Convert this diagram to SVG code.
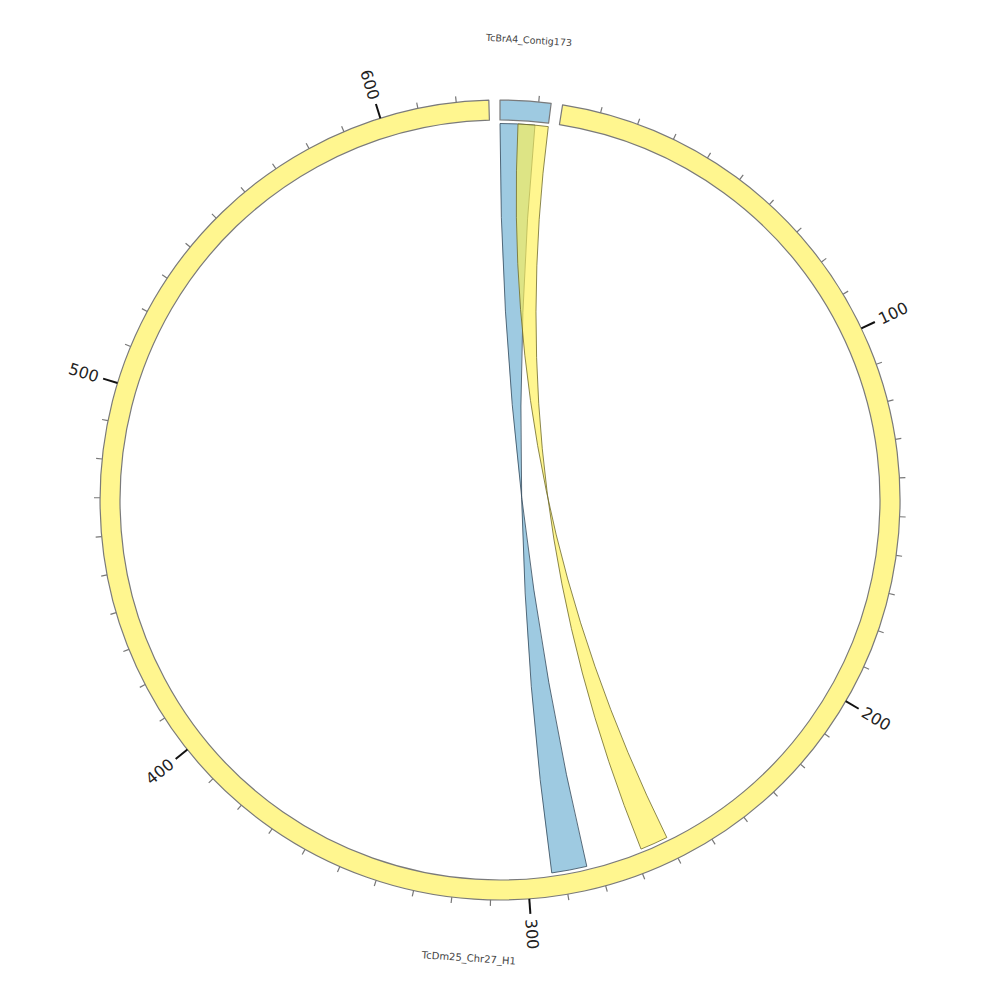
<svg xmlns="http://www.w3.org/2000/svg" width="1000" height="1000" viewBox="0 0 1000 1000">
<style>
.seg{stroke:#7a7a7a;stroke-width:1.2;stroke-linejoin:round}
.minor{stroke:#777;stroke-width:1.2}
.major{stroke:#111;stroke-width:2}
.tl{font-family:"DejaVu Sans",sans-serif;font-size:16px;fill:#222;dominant-baseline:central}
.sl{font-family:"DejaVu Sans",sans-serif;fill:#444;text-anchor:middle;dominant-baseline:central}
</style>
<rect width="1000" height="1000" fill="#fff"/>
<g id="links">
<path id="link-blue" d="M500,123.5 A376.5,376.5 0 0 1 534.97,125.13 Q500,500 551.75,872.93 A376.5,376.5 0 0 0 586.81,866.36 Q500,500 500,123.5 Z" fill="#9ecae1" stroke="#34495a" stroke-width="0.8"/>
<path id="link-yellow" d="M518,123.93 A376.5,376.5 0 0 1 548.3,126.61 Q500,500 641.04,849.08 A376.5,376.5 0 0 0 666.82,837.53 Q500,500 518,123.93 Z" fill="rgb(255,241,83)" fill-opacity="0.65" stroke="#6f6a2a" stroke-width="0.8"/>
</g>
<g id="TcBrA4_Contig173">
<path class="seg" fill="#9ecae1" d="M500,100 A400,400 0 0 1 551.17,103.29 L548.61,123.12 A380,380 0 0 0 500,120 Z"/>
<line class="minor" x1="500" y1="100" x2="500" y2="94" transform="rotate(5.56 500 500)"/>
<text class="sl" font-size="9.5" x="500" y="39" transform="rotate(3.6 500 500)">TcBrA4_Contig173</text>
</g>
<g id="TcDm25_Chr27_H1">
<path class="seg" fill="#fff68f" d="M562.57,104.92 A400,400 0 1 1 488.83,100.16 L489.39,120.15 A380,380 0 1 0 559.44,124.68 Z"/>
<g id="minor-ticks">
<line class="minor" x1="500" y1="100" x2="500" y2="94" transform="rotate(14.56 500 500)"/>
<line class="minor" x1="500" y1="100" x2="500" y2="94" transform="rotate(20.12 500 500)"/>
<line class="minor" x1="500" y1="100" x2="500" y2="94" transform="rotate(25.68 500 500)"/>
<line class="minor" x1="500" y1="100" x2="500" y2="94" transform="rotate(31.24 500 500)"/>
<line class="minor" x1="500" y1="100" x2="500" y2="94" transform="rotate(36.80 500 500)"/>
<line class="minor" x1="500" y1="100" x2="500" y2="94" transform="rotate(42.36 500 500)"/>
<line class="minor" x1="500" y1="100" x2="500" y2="94" transform="rotate(47.92 500 500)"/>
<line class="minor" x1="500" y1="100" x2="500" y2="94" transform="rotate(53.48 500 500)"/>
<line class="minor" x1="500" y1="100" x2="500" y2="94" transform="rotate(59.04 500 500)"/>
<line class="minor" x1="500" y1="100" x2="500" y2="94" transform="rotate(70.16 500 500)"/>
<line class="minor" x1="500" y1="100" x2="500" y2="94" transform="rotate(75.72 500 500)"/>
<line class="minor" x1="500" y1="100" x2="500" y2="94" transform="rotate(81.28 500 500)"/>
<line class="minor" x1="500" y1="100" x2="500" y2="94" transform="rotate(86.84 500 500)"/>
<line class="minor" x1="500" y1="100" x2="500" y2="94" transform="rotate(92.40 500 500)"/>
<line class="minor" x1="500" y1="100" x2="500" y2="94" transform="rotate(97.96 500 500)"/>
<line class="minor" x1="500" y1="100" x2="500" y2="94" transform="rotate(103.52 500 500)"/>
<line class="minor" x1="500" y1="100" x2="500" y2="94" transform="rotate(109.08 500 500)"/>
<line class="minor" x1="500" y1="100" x2="500" y2="94" transform="rotate(114.64 500 500)"/>
<line class="minor" x1="500" y1="100" x2="500" y2="94" transform="rotate(125.76 500 500)"/>
<line class="minor" x1="500" y1="100" x2="500" y2="94" transform="rotate(131.32 500 500)"/>
<line class="minor" x1="500" y1="100" x2="500" y2="94" transform="rotate(136.88 500 500)"/>
<line class="minor" x1="500" y1="100" x2="500" y2="94" transform="rotate(142.44 500 500)"/>
<line class="minor" x1="500" y1="100" x2="500" y2="94" transform="rotate(148.00 500 500)"/>
<line class="minor" x1="500" y1="100" x2="500" y2="94" transform="rotate(153.56 500 500)"/>
<line class="minor" x1="500" y1="100" x2="500" y2="94" transform="rotate(159.12 500 500)"/>
<line class="minor" x1="500" y1="100" x2="500" y2="94" transform="rotate(164.68 500 500)"/>
<line class="minor" x1="500" y1="100" x2="500" y2="94" transform="rotate(170.24 500 500)"/>
<line class="minor" x1="500" y1="100" x2="500" y2="94" transform="rotate(181.36 500 500)"/>
<line class="minor" x1="500" y1="100" x2="500" y2="94" transform="rotate(186.92 500 500)"/>
<line class="minor" x1="500" y1="100" x2="500" y2="94" transform="rotate(192.48 500 500)"/>
<line class="minor" x1="500" y1="100" x2="500" y2="94" transform="rotate(198.04 500 500)"/>
<line class="minor" x1="500" y1="100" x2="500" y2="94" transform="rotate(203.60 500 500)"/>
<line class="minor" x1="500" y1="100" x2="500" y2="94" transform="rotate(209.16 500 500)"/>
<line class="minor" x1="500" y1="100" x2="500" y2="94" transform="rotate(214.72 500 500)"/>
<line class="minor" x1="500" y1="100" x2="500" y2="94" transform="rotate(220.28 500 500)"/>
<line class="minor" x1="500" y1="100" x2="500" y2="94" transform="rotate(225.84 500 500)"/>
<line class="minor" x1="500" y1="100" x2="500" y2="94" transform="rotate(236.96 500 500)"/>
<line class="minor" x1="500" y1="100" x2="500" y2="94" transform="rotate(242.52 500 500)"/>
<line class="minor" x1="500" y1="100" x2="500" y2="94" transform="rotate(248.08 500 500)"/>
<line class="minor" x1="500" y1="100" x2="500" y2="94" transform="rotate(253.64 500 500)"/>
<line class="minor" x1="500" y1="100" x2="500" y2="94" transform="rotate(259.20 500 500)"/>
<line class="minor" x1="500" y1="100" x2="500" y2="94" transform="rotate(264.76 500 500)"/>
<line class="minor" x1="500" y1="100" x2="500" y2="94" transform="rotate(270.32 500 500)"/>
<line class="minor" x1="500" y1="100" x2="500" y2="94" transform="rotate(275.88 500 500)"/>
<line class="minor" x1="500" y1="100" x2="500" y2="94" transform="rotate(281.44 500 500)"/>
<line class="minor" x1="500" y1="100" x2="500" y2="94" transform="rotate(292.56 500 500)"/>
<line class="minor" x1="500" y1="100" x2="500" y2="94" transform="rotate(298.12 500 500)"/>
<line class="minor" x1="500" y1="100" x2="500" y2="94" transform="rotate(303.68 500 500)"/>
<line class="minor" x1="500" y1="100" x2="500" y2="94" transform="rotate(309.24 500 500)"/>
<line class="minor" x1="500" y1="100" x2="500" y2="94" transform="rotate(314.80 500 500)"/>
<line class="minor" x1="500" y1="100" x2="500" y2="94" transform="rotate(320.36 500 500)"/>
<line class="minor" x1="500" y1="100" x2="500" y2="94" transform="rotate(325.92 500 500)"/>
<line class="minor" x1="500" y1="100" x2="500" y2="94" transform="rotate(331.48 500 500)"/>
<line class="minor" x1="500" y1="100" x2="500" y2="94" transform="rotate(337.04 500 500)"/>
<line class="minor" x1="500" y1="100" x2="500" y2="94" transform="rotate(348.16 500 500)"/>
<line class="minor" x1="500" y1="100" x2="500" y2="94" transform="rotate(353.72 500 500)"/>
</g>
<g id="major-ticks">
<line class="major" x1="500" y1="100" x2="500" y2="85" transform="rotate(64.6 500 500)"/>
<line class="major" x1="500" y1="100" x2="500" y2="85" transform="rotate(120.2 500 500)"/>
<line class="major" x1="500" y1="100" x2="500" y2="85" transform="rotate(175.8 500 500)"/>
<line class="major" x1="500" y1="100" x2="500" y2="85" transform="rotate(231.4 500 500)"/>
<line class="major" x1="500" y1="100" x2="500" y2="85" transform="rotate(287 500 500)"/>
<line class="major" x1="500" y1="100" x2="500" y2="85" transform="rotate(342.6 500 500)"/>
<text class="tl" x="920" y="500" text-anchor="start" transform="rotate(-25.4 500 500)">100</text>
<text class="tl" x="920" y="500" text-anchor="start" transform="rotate(30.2 500 500)">200</text>
<text class="tl" x="920" y="500" text-anchor="start" transform="rotate(85.8 500 500)">300</text>
<text class="tl" x="80" y="500" text-anchor="end" transform="rotate(-38.6 500 500)">400</text>
<text class="tl" x="80" y="500" text-anchor="end" transform="rotate(17 500 500)">500</text>
<text class="tl" x="80" y="500" text-anchor="end" transform="rotate(72.6 500 500)">600</text>
</g>
<text class="sl" font-size="10" x="500" y="959" transform="rotate(3.9 500 500)">TcDm25_Chr27_H1</text>
</g>
</svg>
